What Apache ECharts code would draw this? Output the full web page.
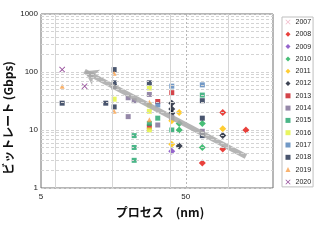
<!DOCTYPE html>
<html><head><meta charset="utf-8">
<script src="https://cdn.jsdelivr.net/npm/echarts@6/dist/echarts.min.js"></script>
<style>html,body{margin:0;padding:0;background:#fff}#c{width:320px;height:240px}</style>
</head><body><div id="c"></div>
<script>
// ---- data: [process (nm), bit rate (Gbps)] ----
const years = ['2007','2008','2009','2010','2011','2012','2013','2014','2015','2016','2017','2018','2019','2020'];
const s2007 = [];
const s2008 = [[90,20],[90,4.7],[130,10],[65,2.7]];
const s2009 = [[40,4.3]];
const s2010 = [[45,13],[45,10],[65,13],[65,5]];
const s2011 = [[45,20],[40,14.5],[40,5.7],[90,10.5]];
const s2012 = [[40,29],[40,23],[40,19.5],[45,5.3],[90,8]];
const s2013 = [[32,31],[40,44],[28,11.3]];
const s2014 = [[20,36],[22,32],[20,17],[28,41],[32,12.2],[40,16.5],[65,9.5]];
const s2015 = [[22,8],[22,5],[22,3],[28,13],[32,16],[40,10],[65,40]];
const s2016 = [[16,34],[28,53],[28,27],[28,21],[28,10]];
const s2017 = [[32,27],[40,57],[65,60]];
const s2018 = [[7,29],[14,29],[16,110],[16,65],[16,56],[16,25],[28,65],[65,32],[65,16],[65,8]];
const s2019 = [[7,57],[16,95],[16,21],[28,30],[28,15]];
const s2020 = [[7,110],[10,57]];
const seriesData = [s2007,s2008,s2009,s2010,s2011,s2012,s2013,s2014,s2015,s2016,s2017,s2018,s2019,s2020];
const xTickLabels = ['5','50'];
const xGridLines = [6.25, 15.625, 39.0625, 97.65625];
const trendArrow = [[130,3.5],[10,103]];
const X_MIN = 5, X_MAX = 200;

// ---- styles ----
const XPATH = 'path://M1,0 L5,4 L9,0 L10,1 L6,5 L10,9 L9,10 L5,6 L1,10 L0,9 L4,5 L0,1 Z';
const styles = [
  {symbol: XPATH, color:'#EFA9BC', size:6},
  {symbol:'diamond', color:'#E3120B', size:7},
  {symbol:'diamond', color:'#7B3FBF', size:7},
  {symbol:'diamond', color:'#19AE55', size:7},
  {symbol:'diamond', color:'#FFC000', size:7},
  {symbol:'diamond', color:'#0E1528', size:7},
  {symbol:'rect', color:'#C8151B', size:5},
  {symbol:'rect', color:'#7A6A92', size:5},
  {symbol:'rect', color:'#1EA46A', size:5},
  {symbol:'rect', color:'#E2F23A', size:5},
  {symbol:'rect', color:'#4F7FB8', size:5},
  {symbol:'rect', color:'#1C2B4A', size:5},
  {symbol:'triangle', color:'#F7A04B', size:5},
  {symbol: XPATH, color:'#7A1F80', size:6}
];

const gridMarks = [];
[1,10,100].forEach(d => { for (let m = 2; m <= 9; m++) gridMarks.push({yAxis: m*d, lineStyle:{color:'#D4D4D4', type:[3,2], width:1}}); });
xGridLines.forEach(v => gridMarks.push({xAxis: v, lineStyle:{color:'#D6D6D6', type:'solid', width:1}}));
// x tick labels (5, 50) with the dashed decade line
xTickLabels.forEach((t, i) => gridMarks.push({
  xAxis: Number(t),
  lineStyle: {color:'#B8B8B8', type:[2,2], width: i === 0 ? 0 : 1},
  label: {show:true, position:'start', distance:5, formatter: t, fontSize:8, color:'#222', opacity:1, fontFamily:'Liberation Sans'}
}));

const series = years.map((y,i) => ({
  name: y, type:'scatter', xAxisIndex:0, yAxisIndex:0,
  data: seriesData[i], symbol: styles[i].symbol, symbolSize: styles[i].size,
  itemStyle:{color: styles[i].color}, silent:true, z:3
}));
series[0].markLine = {
  silent:true, symbol:'none', label:{show:false}, animation:false,
  data: gridMarks
};
series[0].z = 1;
series.push({
  type:'lines', coordinateSystem:'cartesian2d', xAxisIndex:0, yAxisIndex:0,
  symbol:['none','arrow'], symbolSize:13, silent:true, z:4,
  lineStyle:{color:'#A8A8A8', width:5, opacity:0.85},
  itemStyle:{color:'#A8A8A8'},
  data:[{coords: trendArrow}]
});

const chart = echarts.init(document.getElementById('c'));
chart.setOption({
  animation:false,
  backgroundColor:'#fff',
  grid:{left:41, right:47, top:14, bottom:52, show:true, borderColor:'#6E6E6E', borderWidth:1, backgroundColor:'#fff'},
  xAxis:{type:'log', logBase:10, min:X_MIN, max:X_MAX, axisLine:{show:false}, axisTick:{show:false}, axisLabel:{show:false}, splitLine:{show:false}},
  yAxis:{type:'log', logBase:10, min:1, max:1000,
    axisLine:{show:false}, axisTick:{show:false},
    axisLabel:{margin:3, fontSize:8, color:'#222', fontFamily:'Liberation Sans', formatter:(v)=>String(v)},
    splitLine:{show:true, lineStyle:{color:'#D4D4D4', type:[3,2], width:1}}},
  legend:{
    orient:'vertical', left:282, top:17, padding:[1.5,2,1.5,3.5],
    itemWidth:5, itemHeight:5, itemGap:5.3,
    borderColor:'#BFBFBF', borderWidth:1, backgroundColor:'#fff',
    textStyle:{fontSize:7, color:'#222', fontFamily:'Liberation Sans'},
    data: years
  },
  graphic:[
    {type:'text', x:8, y:118, rotation:Math.PI/2, silent:true,
     style:{text:'ビットレート (Gbps)', font:'bold 12px "Noto Sans CJK JP"', fill:'#111', align:'center', verticalAlign:'middle'}},
    {type:'text', x:160, y:212, silent:true,
     style:{text:'プロセス　(nm)', font:'bold 12px "Noto Sans CJK JP"', fill:'#111', align:'center', verticalAlign:'middle'}}
  ],
  series: series
});
</script></body></html>
